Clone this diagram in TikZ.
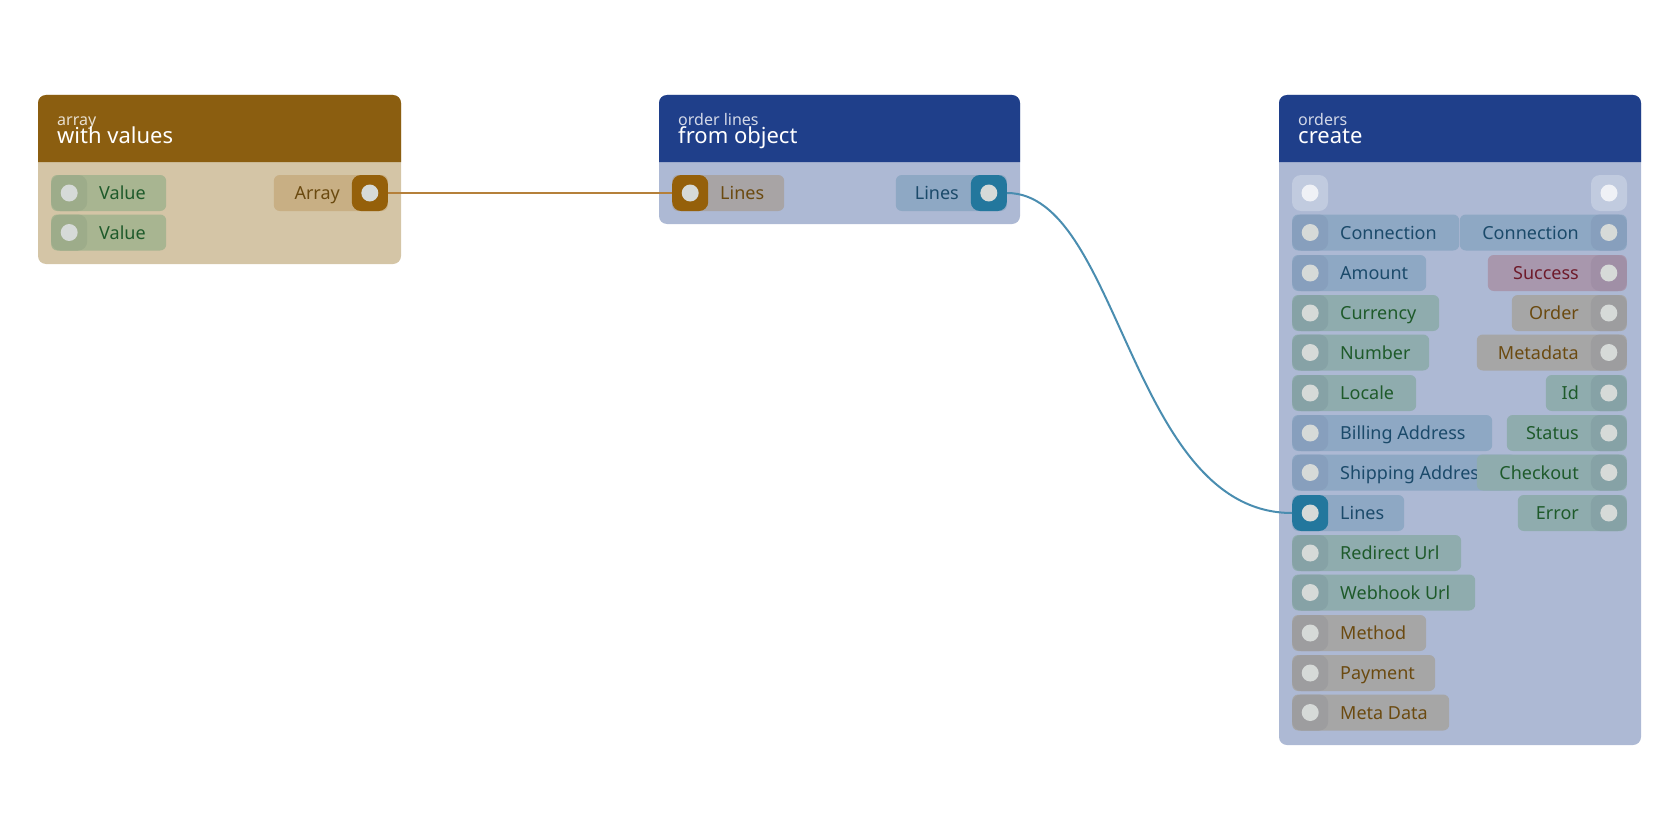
\documentclass[tikz,border=0pt]{standalone}
\usepackage{fontspec}
\setmainfont{Noto Sans}
\usetikzlibrary{positioning}

\definecolor{hbrown}{HTML}{8B5E10}
\definecolor{bbrown}{HTML}{D4C5A6}
\definecolor{hblue}{HTML}{1F3F8A}
\definecolor{bblue}{HTML}{ADB9D4}
\definecolor{pgreen}{HTML}{A8B591}
\definecolor{qgreen}{HTML}{9DAC8A}
\definecolor{tgreen}{HTML}{1E5A2A}
\definecolor{parr}{HTML}{C8AF84}
\definecolor{qarr}{HTML}{95600A}
\definecolor{tbrown}{HTML}{6B4A10}
\definecolor{pgray}{HTML}{A8A4A5}
\definecolor{pbl}{HTML}{8EA8C4}
\definecolor{qbl}{HTML}{879FBD}
\definecolor{tbl}{HTML}{1B4A6A}
\definecolor{pteal}{HTML}{8FACAE}
\definecolor{qteal}{HTML}{86A2A6}
\definecolor{pgr}{HTML}{A6A6A6}
\definecolor{qgr}{HTML}{9D9D9F}
\definecolor{ppink}{HTML}{A897AD}
\definecolor{qpink}{HTML}{A08FA6}
\definecolor{tred}{HTML}{6E1A2A}
\definecolor{qlive}{HTML}{23779D}
\definecolor{dotc}{HTML}{D6DAD8}
\definecolor{wire1}{HTML}{B5803A}
\definecolor{wire2}{HTML}{4A8DB0}

\tikzset{
  pill/.style={rounded corners=6pt, minimum height=36pt, inner sep=0pt},
  port/.style={rounded corners=9pt, minimum size=36pt, inner sep=0pt},
  dot/.style={circle, minimum size=17pt, inner sep=0pt, fill=dotc},
  lbl/.style={inner sep=0pt, font=\fontsize{18}{20}\selectfont},
}

% left pin: name, x, y, width, pill, port, text colour, label
\newcommand\inpin[8]{%
  \node[pill, fill=#5, minimum width=#4pt, anchor=west] (#1) at (#2,#3) {};
  \node[port, fill=#6, anchor=west] (#1p) at (#2,#3) {};
  \node[dot] at (#1p) {};
  \node[lbl, anchor=base west, text=#7] at (#2+48,#3+6.5) {#8};}
% right pin: name, right x, y, width, pill, port, text colour, label
\newcommand\outpin[8]{%
  \node[pill, fill=#5, minimum width=#4pt, anchor=east] (#1) at (#2,#3) {};
  \node[port, fill=#6, anchor=east] (#1p) at (#2,#3) {};
  \node[dot] at (#1p) {};
  \node[lbl, anchor=base east, text=#7] at (#2-48,#3+6.5) {#8};}
% block: x1, x2, bottom y, header, body, small title, title
\newcommand\block[7]{%
  \fill[#5, rounded corners=8pt] (#1,95) rectangle (#2,#3);
  \fill[#4] (#1,162) [rounded corners=8pt] -- (#1,95) -- (#2,95) [sharp corners] -- (#2,162) -- cycle;
  \node[anchor=base west, inner sep=0pt, text=white!80!#4, font=\fontsize{16}{18}\selectfont] at (#1+19,125) {#6};
  \node[anchor=base west, inner sep=0pt, text=white, font=\fontsize{22}{24}\selectfont] at (#1+19,143) {#7};}

\begin{document}
\begin{tikzpicture}[x=1pt, y=-1pt]
\useasboundingbox (0,0) rectangle (1680,840);

% array block
\block{38}{401}{264}{hbrown}{bbrown}{array}{with values}
\inpin{va}{51}{193}{115}{pgreen}{qgreen}{tgreen}{Value}
\inpin{vb}{51}{232.5}{115}{pgreen}{qgreen}{tgreen}{Value}
\outpin{arr}{388}{193}{114}{parr}{qarr}{tbrown}{Array}

% order lines block
\block{659}{1020}{224}{hblue}{bblue}{order lines}{from object}
\inpin{ln}{672}{193}{112}{pgray}{qarr}{tbrown}{Lines}
\outpin{lo}{1007}{193}{111}{pbl}{qlive}{tbl}{Lines}

% orders block
\block{1279}{1641}{745}{hblue}{bblue}{orders}{create}
\node[port, fill=white!25!bblue] (tin) at (1310,193) {};
\node[dot, fill=white!80!bblue] at (tin) {};
\node[port, fill=white!25!bblue] (tout) at (1609,193) {};
\node[dot, fill=white!80!bblue] at (tout) {};
\inpin{cin}{1292}{232.5}{167}{pbl}{qbl}{tbl}{Connection}
\inpin{amt}{1292}{273}{134}{pbl}{qbl}{tbl}{Amount}
\inpin{cur}{1292}{313}{147}{pteal}{qteal}{tgreen}{Currency}
\inpin{num}{1292}{352.5}{137}{pteal}{qteal}{tgreen}{Number}
\inpin{loc}{1292}{393}{124}{pteal}{qteal}{tgreen}{Locale}
\inpin{bil}{1292}{433}{200}{pbl}{qbl}{tbl}{Billing Address}
\inpin{shp}{1292}{472.5}{224}{pbl}{qbl}{tbl}{Shipping Address}
\inpin{li}{1292}{513}{112}{pbl}{qlive}{tbl}{Lines}
\inpin{red}{1292}{553}{169}{pteal}{qteal}{tgreen}{Redirect Url}
\inpin{web}{1292}{592.5}{183}{pteal}{qteal}{tgreen}{Webhook Url}
\inpin{met}{1292}{633}{134}{pgr}{qgr}{tbrown}{Method}
\inpin{pay}{1292}{673}{143}{pgr}{qgr}{tbrown}{Payment}
\inpin{mdt}{1292}{712.5}{157}{pgr}{qgr}{tbrown}{Meta Data}
\outpin{cout}{1627}{232.5}{167}{pbl}{qbl}{tbl}{Connection}
\outpin{suc}{1627}{273}{139}{ppink}{qpink}{tred}{Success}
\outpin{ord}{1627}{313}{115}{pgr}{qgr}{tbrown}{Order}
\outpin{mta}{1627}{352.5}{150}{pgr}{qgr}{tbrown}{Metadata}
\outpin{oid}{1627}{393}{81}{pteal}{qteal}{tgreen}{Id}
\outpin{sta}{1627}{433}{120}{pteal}{qteal}{tgreen}{Status}
\outpin{chk}{1627}{472.5}{150}{pteal}{qteal}{tgreen}{Checkout}
\outpin{err}{1627}{513}{109}{pteal}{qteal}{tgreen}{Error}

% wires
\draw[wire1, line width=2pt] (arrp.east) -- (lnp.west);
\draw[wire2, line width=2pt] (lop.east) .. controls (1120,193) and (1130,513) .. (lip.west);
\end{tikzpicture}
\end{document}
